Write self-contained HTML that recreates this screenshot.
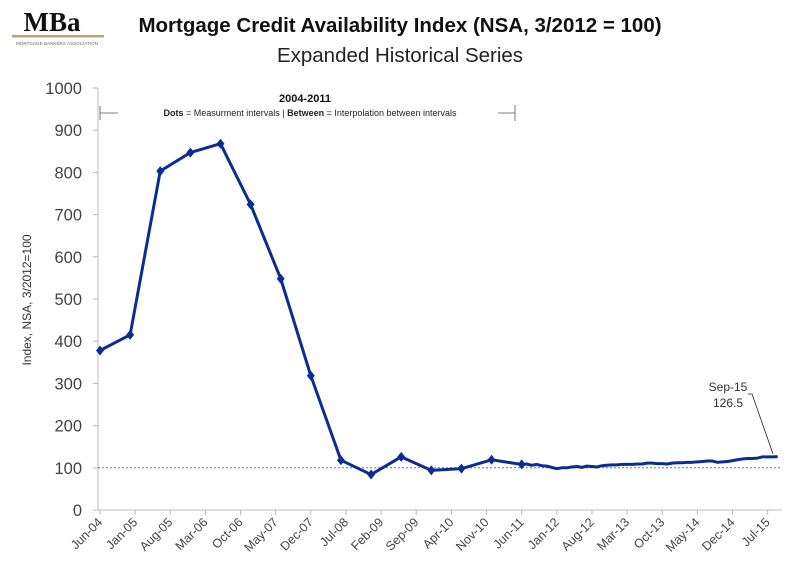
<!DOCTYPE html>
<html><head><meta charset="utf-8"><style>
body{margin:0;background:#fff;width:800px;height:581px;overflow:hidden;font-family:"Liberation Sans",sans-serif}
</style></head><body>
<svg width="800" height="581" font-family="Liberation Sans, sans-serif">
 <g>
  <text x="52" y="31" text-anchor="middle" font-family="Liberation Serif, serif" font-weight="bold" font-size="27" fill="#111">MBa</text>
  <rect x="12" y="35" width="92" height="2.5" fill="#b8a27a"/>
  <text x="57" y="45" text-anchor="middle" font-size="4.6" fill="#666">MORTGAGE BANKERS ASSOCIATION</text>
 </g>
 <text x="400" y="32" text-anchor="middle" font-weight="bold" font-size="20.5" fill="#111">Mortgage Credit Availability Index (NSA, 3/2012 = 100)</text>
 <text x="400" y="62" text-anchor="middle" font-size="20.5" fill="#222">Expanded Historical Series</text>
 <text transform="translate(31,300) rotate(-90)" text-anchor="middle" font-size="12" fill="#333">Index, NSA, 3/2012=100</text>
 <g>
  <text x="305" y="102" text-anchor="middle" font-weight="bold" font-size="11" fill="#111">2004-2011</text>
  <text x="310" y="116" text-anchor="middle" font-size="9" fill="#222"><tspan font-weight="bold">Dots</tspan> = Measurment intervals  |  <tspan font-weight="bold">Between</tspan> = Interpolation between intervals</text>
  <line x1="100" y1="113" x2="118" y2="113" stroke="#555" stroke-width="0.8"/>
  <line x1="100" y1="106" x2="100" y2="120" stroke="#555" stroke-width="0.8"/>
  <line x1="498" y1="113" x2="515" y2="113" stroke="#555" stroke-width="0.8"/>
  <line x1="515" y1="105" x2="515" y2="121" stroke="#555" stroke-width="0.8"/>
 </g>
 <g id="plot"></g>
 <g>
  <text x="728" y="391" text-anchor="middle" font-size="12" fill="#333">Sep-15</text>
  <text x="728" y="407" text-anchor="middle" font-size="12" fill="#333">126.5</text>
  <polyline points="748,394 752,394 773,454" fill="none" stroke="#222" stroke-width="0.8"/>
 </g>
</svg>
<script>
const yTicks=[0,100,200,300,400,500,600,700,800,900,1000];
const xTickLabels=["Jun-04","Jan-05","Aug-05","Mar-06","Oct-06","May-07","Dec-07","Jul-08","Feb-09","Sep-09","Apr-10","Nov-10","Jun-11","Jan-12","Aug-12","Mar-13","Oct-13","May-14","Dec-14","Jul-15"];
const dotMonths=[0,6,12,18,24,30,36,42,48,54,60,66,72,78,84];
const dotValues=[378,415,803,847,868,724,548,318,118,84,126,94,98,119,108];
const monthlyValues=[109,106,108,105,104,101,98,100,100,102,103,101,104,103,102,105,106,107,107,108,108,108,109,109,111,111,110,110,109,111,112,112,113,113,114,115,116,116,113,114,115,117,119,121,122,122,123,126,126,126,126.5];
const NS='http://www.w3.org/2000/svg';
const plot=document.getElementById('plot');
const X=m=>100+m*5.02;
const Y=v=>510-v*0.422;
function mk(t,a,p){const e=document.createElementNS(NS,t);for(const k in a)e.setAttribute(k,a[k]);(p||plot).appendChild(e);return e;}
const ax=mk('line',{x1:98,y1:88,x2:98,y2:510,stroke:'#bbb','stroke-width':1});


const bx=mk('line',{x1:98,y1:510,x2:782,y2:510,stroke:'#bbb','stroke-width':1});


yTicks.forEach(v=>{
 mk('line',{x1:93,y1:Y(v),x2:98,y2:Y(v),stroke:'#bbb'});
 const t=mk('text',{x:82,y:Y(v)+6,'text-anchor':'end','font-size':16.5,fill:'#444'});
 t.textContent=v;
 
 
});
xTickLabels.forEach((l,i)=>{
 const x=X(i*7);
 mk('line',{x1:x,y1:510,x2:x,y2:515,stroke:'#bbb'});
 const t=mk('text',{transform:`translate(${x+3},${523}) rotate(-45)`,'text-anchor':'end','font-size':12.5,fill:'#444'});
 t.textContent=l;
 
 
});
const ref=mk('line',{x1:98,y1:Y(100),x2:782,y2:Y(100),stroke:'#777','stroke-width':1,'stroke-dasharray':'2,2'});


const pts=dotMonths.map((m,i)=>[X(m),Y(dotValues[i])]);
monthlyValues.forEach((v,i)=>pts.push([X(85+i),Y(v)]));
const line=mk('polyline',{points:pts.map(p=>p.join(',')).join(' '),fill:'none',stroke:'#0a2d94','stroke-width':3,'stroke-linejoin':'round'});


dotMonths.forEach((m,i)=>{
 const x=X(m),y=Y(dotValues[i]);
 const d=mk('polygon',{points:`${x},${y-5} ${x+4},${y} ${x},${y+5} ${x-4},${y}`,fill:'#0a2d94'});
 
 
});
</script>
</body></html>
